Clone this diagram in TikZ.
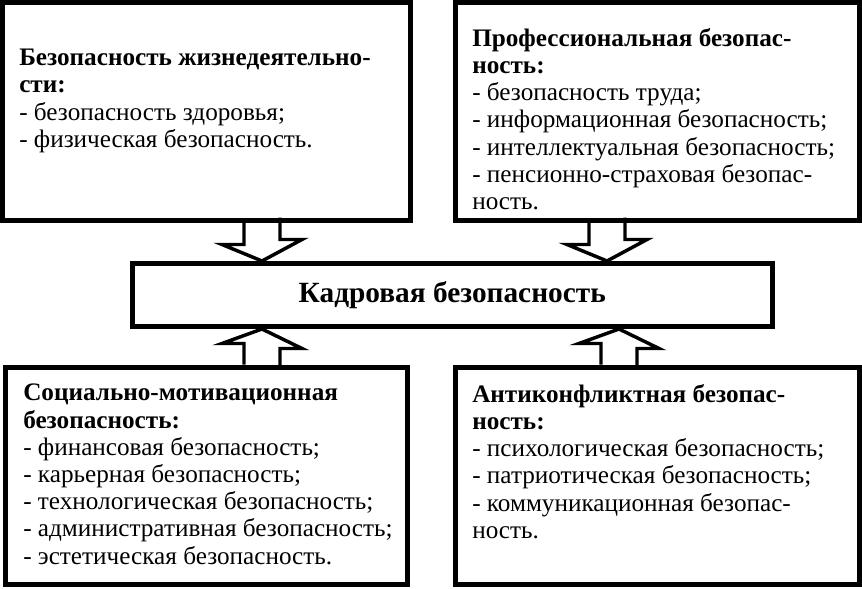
\documentclass[tikz,border=0pt]{standalone}
\usepackage{fontspec}
\setmainfont{Liberation Serif}
\usetikzlibrary{fit}
\begin{document}
\begin{tikzpicture}[x=0.75pt,y=-0.75pt,
  box/.style={draw=black, line width=3.75pt, fill=white, inner sep=0pt, rectangle},
  bodytext/.style={anchor=north west, inner sep=0pt, align=left, font=\fontsize{18.9}{20.4}\selectfont},
  titletext/.style={inner sep=0pt, font=\fontsize{22}{26}\selectfont\bfseries},
  blockarrow/.style={draw=black, line width=2.6pt, line join=miter}]
\useasboundingbox (0,0) rectangle (862,588);
\fill[white] (0,0) rectangle (862,588);
% boxes
\node[box, fit={(2.5,2.5) (410.5,220)}] (tl) {};
\node[box, fit={(455,2.5) (859.5,220)}] (tr) {};
\node[box, fit={(132.5,263.5) (772,326.5)}] (cb) {};
\node[box, fit={(5.5,367) (407.5,584.5)}] (bl) {};
\node[box, fit={(455.5,367) (859.5,584.5)}] (br) {};
% texts
\node[titletext] (cbt) at (cb.center) {Кадровая безопасность};
\node[bodytext] (tlt) at (19,49) {\textbf{Безопасность жизнедеятельно-}\\\textbf{сти:}\\- безопасность здоровья;\\- физическая безопасность.};
\node[bodytext] (trt) at (472,28) {\textbf{Профессиональная безопас-}\\\textbf{ность:}\\- безопасность труда;\\- информационная безопасность;\\- интеллектуальная безопасность;\\- пенсионно-страховая безопас-\\ность.};
\node[bodytext] (blt) at (23,384) {\textbf{Социально-мотивационная}\\\textbf{безопасность:}\\- финансовая безопасность;\\- карьерная безопасность;\\- технологическая безопасность;\\- административная безопасность;\\- эстетическая безопасность.};
\node[bodytext] (brt) at (472,384) {\textbf{Антиконфликтная безопас-}\\\textbf{ность:}\\- психологическая безопасность;\\- патриотическая безопасность;\\- коммуникационная безопас-\\ность.};
% arrow columns
\coordinate (c1) at (262,0);
\coordinate (c2) at (607,0);
\coordinate (c3) at (262,0);
\coordinate (c4) at (619,0);
% downward arrows
\draw[blockarrow] (tl.south -| c1) ++(-18,0) -- ++(0,22) -- ++(-22,0) -- (cb.north -| c1) -- ++(40,-21.5) -- ++(-22,0) -- ++(0,-22);
\draw[blockarrow] (tr.south -| c2) ++(-18,0) -- ++(0,22) -- ++(-22,0) -- (cb.north -| c2) -- ++(40,-21.5) -- ++(-22,0) -- ++(0,-22);
% upward arrows
\draw[blockarrow] (bl.north -| c3) ++(-18,0) -- ++(0,-21) -- ++(-22,0) -- (cb.south -| c3) -- ++(40,19.5) -- ++(-22,0) -- ++(0,21);
\draw[blockarrow] (br.north -| c4) ++(-18,0) -- ++(0,-21) -- ++(-22,0) -- (cb.south -| c4) -- ++(40,19.5) -- ++(-22,0) -- ++(0,21);
\end{tikzpicture}
\end{document}
